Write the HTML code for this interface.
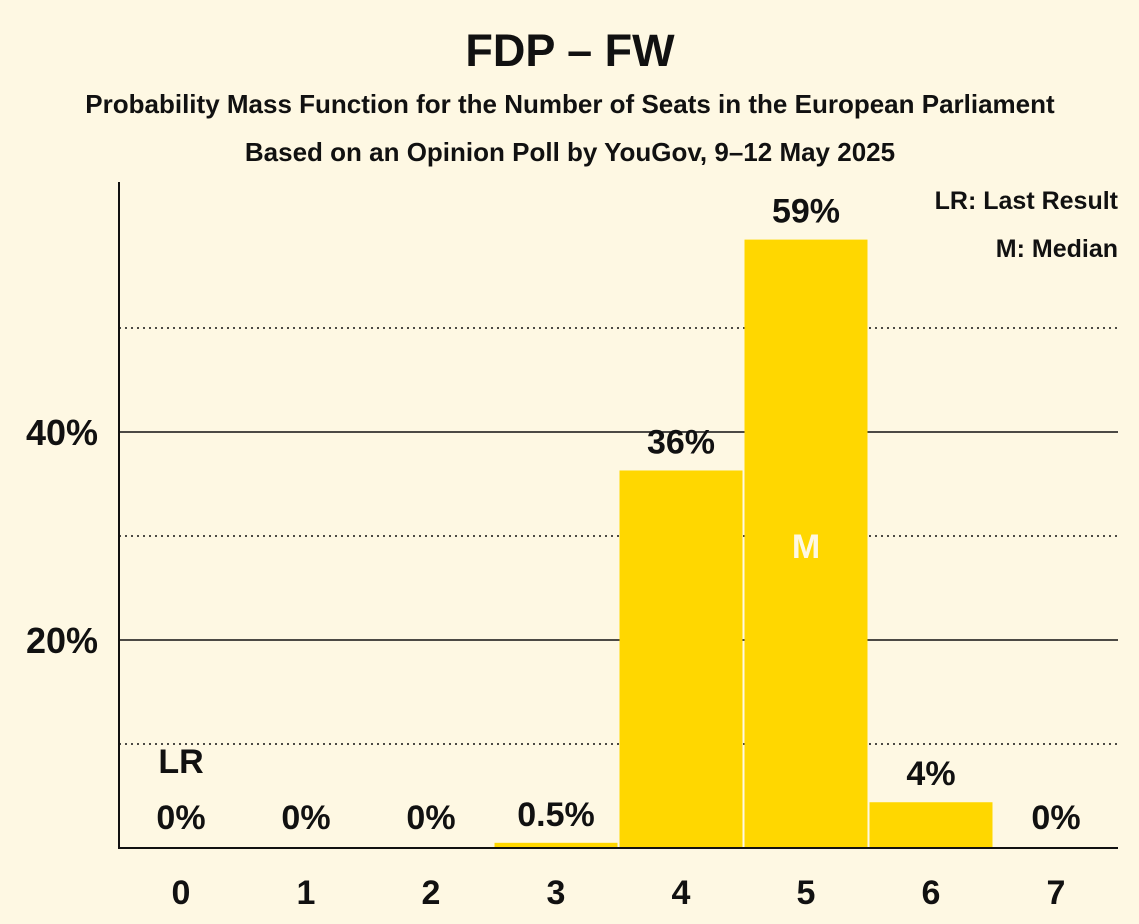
<!DOCTYPE html>
<html><head><meta charset="utf-8"><style>
body{margin:0;background:#FEF8E3;}
svg{display:block;font-family:"Liberation Sans",sans-serif;}
</style></head><body>
<svg id="c" width="1139" height="924">
<rect width="1139" height="924" fill="#FEF8E3"/>
<text x="570" y="66" text-anchor="middle" font-size="45" font-weight="bold" fill="#111">FDP – FW</text>
<text x="570" y="113" text-anchor="middle" font-size="26" font-weight="bold" fill="#111">Probability Mass Function for the Number of Seats in the European Parliament</text>
<text x="570" y="161" text-anchor="middle" font-size="26" font-weight="bold" fill="#111">Based on an Opinion Poll by YouGov, 9–12 May 2025</text>
<text x="1118" y="209" text-anchor="end" font-size="25" font-weight="bold" fill="#111">LR: Last Result</text>
<text x="1118" y="257" text-anchor="end" font-size="25" font-weight="bold" fill="#111">M: Median</text>
<text x="1134" y="110" text-anchor="middle" font-size="9" fill="#333" transform="rotate(-90 1134 60)">© 2025 Filip van Laenen</text>
<g id="grid"></g><g id="bars"></g>
<line x1="119" y1="182" x2="119" y2="849" stroke="#111" stroke-width="2"/>
<line x1="118" y1="848" x2="1118" y2="848" stroke="#111" stroke-width="2"/>
</svg>
<script>
const categories=[0,1,2,3,4,5,6,7];
const values=[0,0,0,0.5,36.3,58.5,4.4,0];
const valueLabels=["0%","0%","0%","0.5%","36%","59%","4%","0%"];
const yTicks=[20,40];
const yMinor=[10,30,50];
const lastResult=0, median=5;
const ns="http://www.w3.org/2000/svg";
const y=v=>848-v*10.4;
const x=i=>181+125*i;
function mk(t,a,p){const e=document.createElementNS(ns,t);for(const k in a)e.setAttribute(k,a[k]);p.appendChild(e);return e;}
const g=document.getElementById('grid'),b=document.getElementById('bars');
yMinor.forEach(v=>{const l=mk('line',{x1:119,x2:1118,y1:y(v),y2:y(v),stroke:'#111','stroke-width':1.5,'stroke-dasharray':'2,4'},g);

});
yTicks.forEach(v=>{const l=mk('line',{x1:119,x2:1118,y1:y(v),y2:y(v),stroke:'#111','stroke-width':1.5},g);


const t=mk('text',{x:98,y:y(v)+13,'text-anchor':'end','font-size':36,'font-weight':'bold',fill:'#111'},g);t.textContent=v+'%';

});
categories.forEach((c,i)=>{
 const v=values[i];
 if(v>0){const r=mk('rect',{x:x(i)-61.5,y:y(v),width:123,height:848-y(v),fill:'#FFD700'},b);
 
 }
 const ly=v>0?y(v)-17:829;
 const t=mk('text',{x:x(i),y:ly,'text-anchor':'middle','font-size':34,'font-weight':'bold',fill:'#111'},b);t.textContent=valueLabels[i];
 
 
 const xl=mk('text',{x:x(i),y:904,'text-anchor':'middle','font-size':34,'font-weight':'bold',fill:'#111'},b);xl.textContent=c;
 
 
 if(c===lastResult){const l=mk('text',{x:x(i),y:773,'text-anchor':'middle','font-size':34,'font-weight':'bold',fill:'#111'},b);l.textContent='LR';
 
 }
 if(c===median){const m=mk('text',{x:x(i),y:558,'text-anchor':'middle','font-size':34,'font-weight':'bold',fill:'#FEF8E3'},b);m.textContent='M';
 
 }
});
</script>
</body></html>
